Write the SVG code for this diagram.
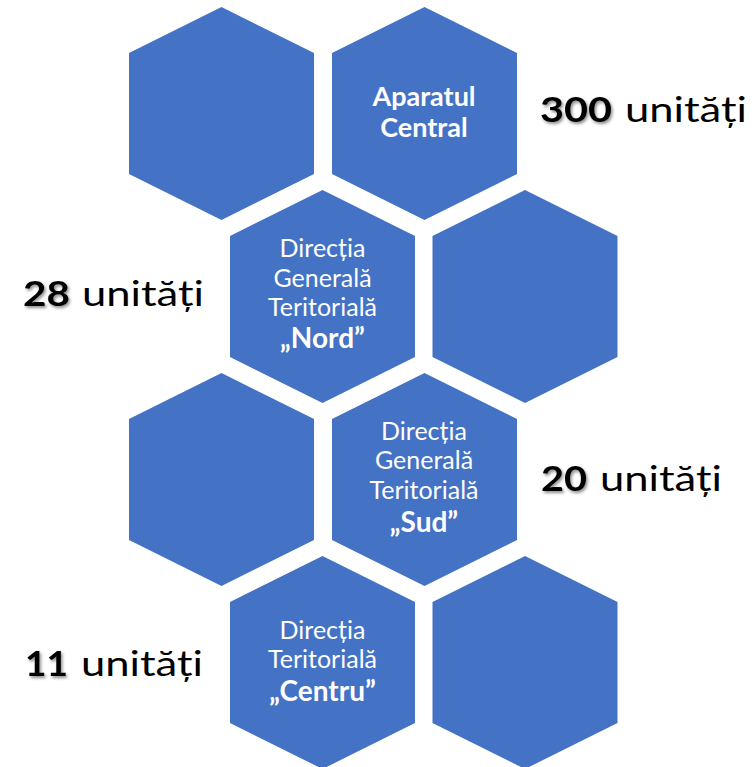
<svg xmlns="http://www.w3.org/2000/svg" width="754" height="767" viewBox="0 0 754 767">
<style>
.hex{fill:#4472C4}
.t{font-family:Lato,"Open Sans","Liberation Sans",sans-serif;fill:#fff;text-anchor:middle}
.r{font-size:25px;font-weight:400}
.b{font-size:27px;font-weight:700}
.q{font-size:28px;font-weight:700}
.num{font-family:Lato,"Liberation Sans",sans-serif;font-size:35px;font-weight:700;fill:#000}
.u{font-family:Lato,"Liberation Sans",sans-serif;font-size:35px;font-weight:400;fill:#000}
</style>
<defs>
<polygon id="hexshape" points="0,-106.5 92.5,-60.5 92.5,60.5 0,106.5 -92.5,60.5 -92.5,-60.5"/>
<filter id="sh" x="-20%" y="-20%" width="150%" height="150%">
<feDropShadow dx="1.5" dy="2" stdDeviation="1.5" flood-color="#000" flood-opacity="0.45"/>
</filter>
</defs>
<g id="hex-r1-left"><use href="#hexshape" class="hex" x="221.5" y="113.5"/></g>
<g id="hex-aparatul-central"><use href="#hexshape" class="hex" x="424.5" y="113.5"/>
<text class="t b" x="424" y="106">Aparatul</text>
<text class="t b" x="424" y="137">Central</text></g>
<g id="hex-nord"><use href="#hexshape" class="hex" x="322.5" y="296.5"/>
<text class="t r" x="322.5" y="256.7">Direcția</text>
<text class="t r" x="322.5" y="286.7">Generală</text>
<text class="t r" x="322.5" y="316">Teritorială</text>
<text class="t q" x="322.5" y="348.3">„Nord”</text></g>
<g id="hex-r2-right"><use href="#hexshape" class="hex" x="525" y="296.5"/></g>
<g id="hex-r3-left"><use href="#hexshape" class="hex" x="221.5" y="479.5"/></g>
<g id="hex-sud"><use href="#hexshape" class="hex" x="424.5" y="479.5"/>
<text class="t r" x="424" y="440">Direcția</text>
<text class="t r" x="424" y="469.3">Generală</text>
<text class="t r" x="424" y="499">Teritorială</text>
<text class="t q" x="424" y="531.7">„Sud”</text></g>
<g id="hex-centru"><use href="#hexshape" class="hex" x="322.5" y="662.5"/>
<text class="t r" x="322.5" y="638.5">Direcția</text>
<text class="t r" x="322.5" y="668">Teritorială</text>
<text class="t q" x="322.5" y="701">„Centru”</text></g>
<g id="hex-r4-right"><use href="#hexshape" class="hex" x="525" y="662.5"/></g>
<g id="label-300">
<text class="num" filter="url(#sh)" x="540" y="122" textLength="72" lengthAdjust="spacingAndGlyphs">300</text>
<text class="u" x="625" y="122" textLength="122" lengthAdjust="spacingAndGlyphs">unități</text></g>
<g id="label-28">
<text class="num" filter="url(#sh)" x="23" y="306" textLength="47" lengthAdjust="spacingAndGlyphs">28</text>
<text class="u" x="82" y="306" textLength="122" lengthAdjust="spacingAndGlyphs">unități</text></g>
<g id="label-20">
<text class="num" filter="url(#sh)" x="541" y="491" textLength="46" lengthAdjust="spacingAndGlyphs">20</text>
<text class="u" x="600" y="491" textLength="122" lengthAdjust="spacingAndGlyphs">unități</text></g>
<g id="label-11">
<text class="num" filter="url(#sh)" x="25" y="676" textLength="43" lengthAdjust="spacingAndGlyphs">11</text>
<text class="u" x="81" y="676" textLength="122" lengthAdjust="spacingAndGlyphs">unități</text></g>
<g id="connectors"/>
</svg>
